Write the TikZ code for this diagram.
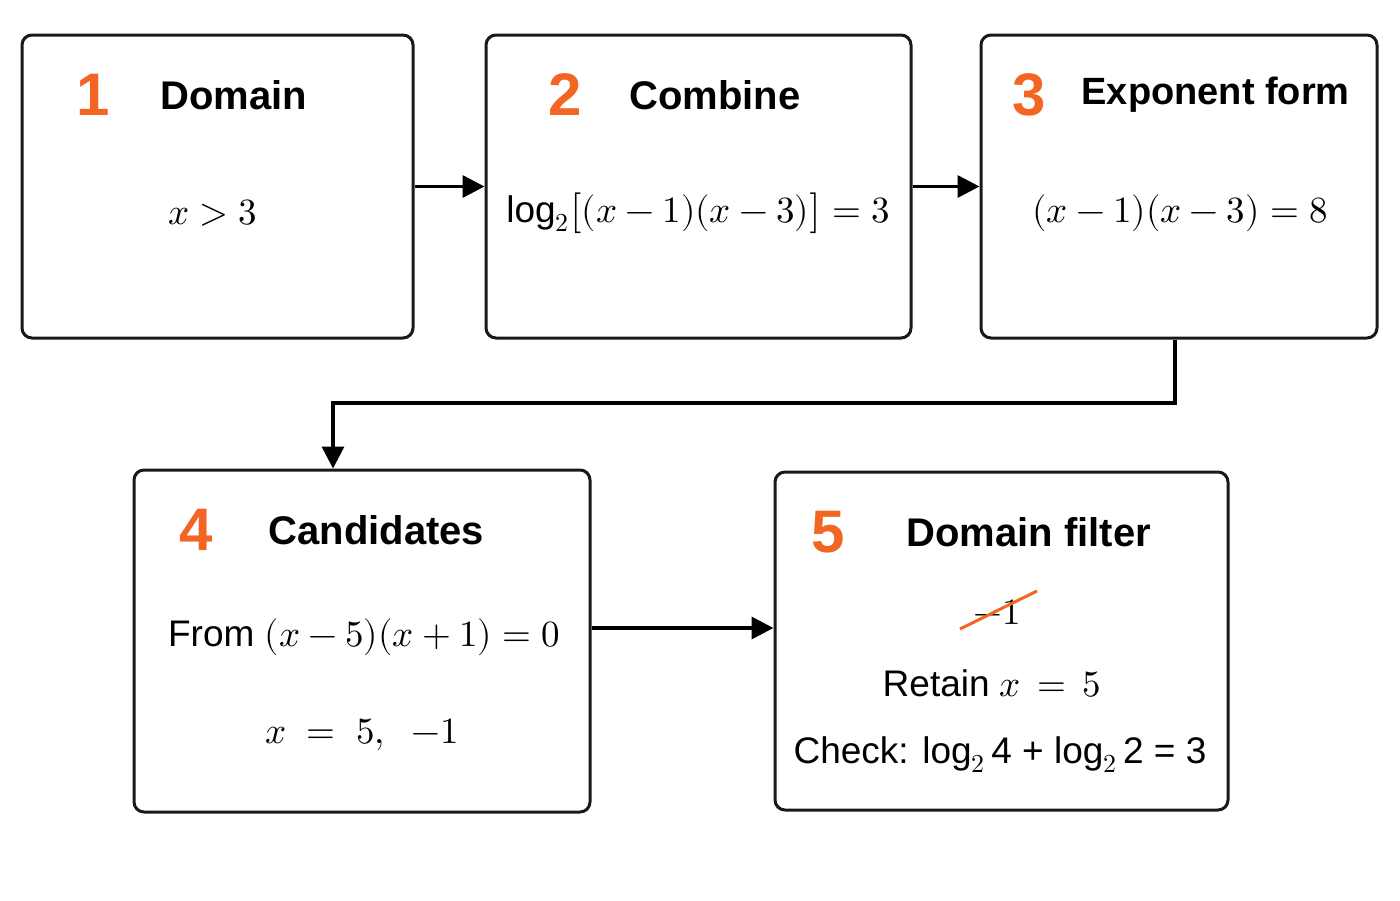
\documentclass[tikz,border=0pt]{standalone}
\usepackage{fontspec}
\setmainfont{Liberation Sans}
\usepackage{unicode-math}
\usetikzlibrary{arrows.meta}
\definecolor{orng}{HTML}{F26522}
\begin{document}
\begin{tikzpicture}[x=1pt,y=-1pt,
 box/.style={draw=black!90,line width=3pt,rounded corners=10pt},
 num/.style={text=orng,font=\fontsize{60}{60}\selectfont\bfseries},
 ttl/.style={font=\fontsize{40}{40}\selectfont\bfseries},
 txt/.style={font=\fontsize{37}{37}\selectfont},
 arr/.style={line width=3.5pt,-{Triangle[length=22pt,width=22pt]}}]
\useasboundingbox (0,0) rectangle (1400,900);
\fill[white] (0,0) rectangle (1400,900);
\node[box,minimum width=391pt,minimum height=303pt] (b1) at (217.5,186.5) {};
\node[box,minimum width=425pt,minimum height=303pt] (b2) at (698.5,186.5) {};
\node[box,minimum width=396pt,minimum height=303pt] (b3) at (1179,186.5) {};
\node[box,minimum width=456pt,minimum height=342pt] (b4) at (362,641) {};
\node[box,minimum width=453pt,minimum height=338pt] (b5) at (1001.5,641) {};
\node[num] (n1) at (93,95) {1};
\node[ttl,anchor=west] (t1) at (157,95) {Domain};
\node[txt] (e1) at (213,213) {$x>3$};
\node[num] (n2) at (565,95) {2};
\node[ttl,anchor=west] (t2) at (626,95) {Combine};
\node[txt] (e2) at (698,213) {log$_2\bigl[(x-1)(x-3)\bigr]=3$};
\node[num] (n3) at (1029,95) {3};
\node[ttl,anchor=west,font=\fontsize{38}{38}\selectfont\bfseries] (t3) at (1078,95) {Exponent form};
\node[txt] (e3) at (1180,213) {$(x-1)(x-3)=8$};
\node[num] (n4) at (196,530) {4};
\node[ttl,anchor=west] (t4) at (265,530) {Candidates};
\node[txt] (e4) at (364,637) {From $(x-5)(x+1)=0$};
\node[txt] (f4) at (362,735) {$x\;=\;5,\;\;-1$};
\node[num] (n5) at (828,532) {5};
\node[ttl,anchor=west] (t5) at (903,532) {Domain filter};
\node[txt] (e5) at (997,612) {$-1$};
\draw[orng,line width=3pt] (960,629) -- (1037,591);
\node[txt] (f5) at (992,683) {Retain $x\,=\,5$};
\node[txt] (g5) at (1000,755) {Check: log$_2$\,4 + log$_2$\,2 = 3};
\draw[arr] (b1.east) -- (b2.west);
\draw[arr] (b2.east) -- (b3.west);
\coordinate (c1) at (1175,403);
\coordinate (c2) at (333,403);
\coordinate (c3) at (700,628);
\draw[arr] (b3.south -| c1) -- (c1) -- (c2) -- (c2 |- b4.north);
\draw[arr] (b4.east |- c3) -- (b5.west |- c3);
\end{tikzpicture}
\end{document}
